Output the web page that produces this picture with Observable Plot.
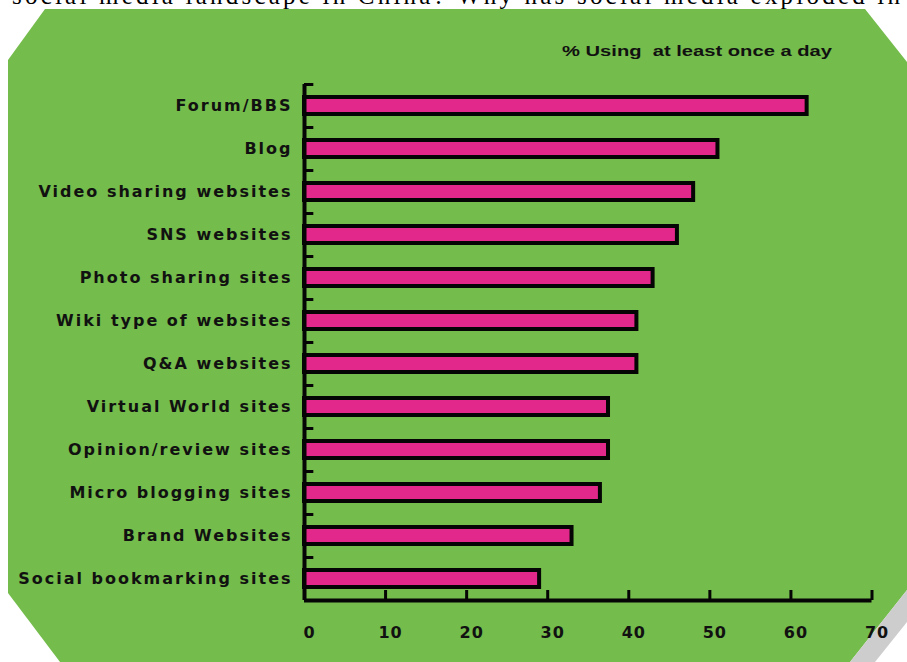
<!DOCTYPE html>
<html>
<head>
<meta charset="utf-8">
<script src="https://cdn.jsdelivr.net/npm/d3@7"></script>
<script src="https://cdn.jsdelivr.net/npm/@observablehq/plot@0.6"></script>
<style>
  html, body { margin: 0; padding: 0; background: #fff; }
  #wrap { position: relative; width: 907px; height: 662px; overflow: hidden; background: #fff; }
  #green { position: absolute; left: 0; top: 0; width: 907px; height: 662px; background: #74bc4b;
    clip-path: polygon(45px 9px, 865px 9px, 907px 62px, 907px 590px, 850px 662px, 60px 662px, 8px 593px, 8px 60px); }
  #shadow { position: absolute; left: 0; top: 0; width: 907px; height: 662px; background: #cdcdcd;
    clip-path: polygon(907px 590px, 850px 662px, 875px 662px, 907px 622px); }
  #chart { position: absolute; left: 0; top: 0; }
  .overlay { position: absolute; left: 0; top: 0; }
  #chart svg [aria-label="y-axis tick label"] text { letter-spacing: 2px; }
  #chart svg [aria-label="x-axis tick label"] text { letter-spacing: 1px; }
</style>
</head>
<body>
<div id="wrap">
  <div id="green"></div>
  <div id="shadow"></div>
  <svg class="overlay" width="907" height="12">
    <text x="12" y="4" font-family="'Liberation Serif', 'Times New Roman', serif" font-size="25" textLength="888" lengthAdjust="spacing" fill="#000">social media landscape in China? Why has social media exploded in</text>
  </svg>
  <div id="chart"></div>
  <svg class="overlay" width="907" height="80" style="pointer-events:none">
    <text id="subtitle" x="562" y="56" font-family="'Liberation Sans', Arial, sans-serif" font-weight="bold" font-size="15" textLength="270" lengthAdjust="spacingAndGlyphs" fill="#111" style="white-space:pre"></text>
  </svg>
</div>
<script>
const categories = [
  "Forum/BBS",
  "Blog",
  "Video sharing websites",
  "SNS websites",
  "Photo sharing sites",
  "Wiki type of websites",
  "Q&A websites",
  "Virtual World sites",
  "Opinion/review sites",
  "Micro blogging sites",
  "Brand Websites",
  "Social bookmarking sites"
];
const values = [62, 51, 48, 46, 43, 41, 41, 37.5, 37.5, 36.5, 33, 29];
const xTicks = [0, 10, 20, 30, 40, 50, 60, 70];
const subtitle = "% Using  at least once a day";

document.getElementById("subtitle").textContent = subtitle;

const data = categories.map((c, i) => ({category: c, value: values[i]}));
const last = categories[categories.length - 1];

const plot = Plot.plot({
  width: 907,
  height: 662,
  marginLeft: 304,
  marginRight: 35.5,
  marginTop: 84,
  marginBottom: 62,
  x: {domain: [0, 70], axis: null},
  y: {domain: categories, padding: 0, axis: null},
  style: {background: "none", fontFamily: "'DejaVu Sans', sans-serif", fontWeight: "bold", color: "#111", overflow: "visible"},
  marks: [
    Plot.barX(data, {x: "value", y: "category", fill: "#e2288a", stroke: "#050505", strokeWidth: 4, insetTop: 13, insetBottom: 13}),
    Plot.ruleY(categories, {y: d => d, x1: 0, x2: 1.15, dy: -21.5, stroke: "#050505", strokeWidth: 3}),
    Plot.tickX(xTicks, {x: d => d, y: () => last, insetTop: 33, stroke: "#050505", strokeWidth: 3}),
    Plot.ruleY([last], {y: d => d, x1: 0, x2: 70, dy: 21.5, stroke: "#050505", strokeWidth: 4}),
    Plot.ruleX([0], {stroke: "#050505", strokeWidth: 4}),
    Plot.axisX({ticks: xTicks, tickSize: 0, tickPadding: 26, fontSize: 16, dx: 5, label: null}),
    Plot.axisY({tickSize: 0, tickPadding: 12, fontSize: 16, label: null})
  ]
});
document.getElementById("chart").appendChild(plot);
</script>
</body>
</html>
